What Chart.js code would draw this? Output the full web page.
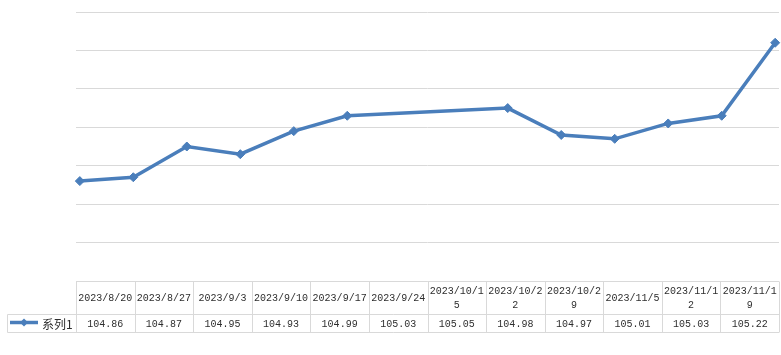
<!DOCTYPE html>
<html>
<head>
<meta charset="utf-8">
<script src="https://cdn.jsdelivr.net/npm/chart.js@4/dist/chart.umd.min.js"></script>
<style>
  html, body { margin: 0; padding: 0; background: #ffffff; }
  #wrap { width: 781px; height: 355px; }
</style>
</head>
<body>
<div id="wrap"><canvas id="c" width="781" height="355"></canvas></div>
<script>
const categories = ["2023/8/20","2023/8/27","2023/9/3","2023/9/10","2023/9/17","2023/9/24","2023/10/15","2023/10/22","2023/10/29","2023/11/5","2023/11/12","2023/11/19"];
const seriesName = "系列1";
const values = [104.86, 104.87, 104.95, 104.93, 104.99, 105.03, 105.05, 104.98, 104.97, 105.01, 105.03, 105.22];
const valueLabels = ["104.86","104.87","104.95","104.93","104.99","105.03","105.05","104.98","104.97","105.01","105.03","105.22"];
const yMin = 104.6, yMax = 105.3, yStep = 0.1;

const LINE = '#4a7ebb';
const GRID = '#d9d9d9';
const TEXT = '#2e2e2e';

function dayNum(s) {
  const p = s.split('/').map(Number);
  return Date.UTC(p[0], p[1] - 1, p[2]) / 86400000;
}
const d0 = dayNum(categories[0]);
const dayOffsets = categories.map(c => dayNum(c) - d0);
const points = dayOffsets.map((d, i) => ({ x: d, y: values[i] }));
const spanDays = dayOffsets[dayOffsets.length - 1];

const tablePlugin = {
  id: 'dataTable',
  afterDraw(chart) {
    const ctx = chart.ctx;
    const a = chart.chartArea;
    const left = a.left, right = a.right;
    const n = categories.length;
    const cw = (right - left) / n;
    const top = Math.round(a.bottom) + 0.5;
    const mid = top + 33;
    const bot = mid + 18;
    const legLeft = 7.5;
    ctx.save();
    ctx.strokeStyle = GRID;
    ctx.lineWidth = 1;
    ctx.beginPath();
    ctx.moveTo(left, top); ctx.lineTo(right, top);
    ctx.moveTo(legLeft, mid); ctx.lineTo(right, mid);
    ctx.moveTo(legLeft, bot); ctx.lineTo(right, bot);
    ctx.moveTo(legLeft, mid); ctx.lineTo(legLeft, bot);
    for (let i = 0; i <= n; i++) {
      const x = Math.round(left + i * cw) + 0.5;
      ctx.moveTo(x, top); ctx.lineTo(x, bot);
    }
    ctx.stroke();

    ctx.fillStyle = TEXT;
    ctx.font = '10px "Liberation Mono", "Noto Sans CJK SC", monospace';
    ctx.textAlign = 'center';
    ctx.textBaseline = 'middle';
    for (let i = 0; i < n; i++) {
      const cx = left + (i + 0.5) * cw;
      const label = categories[i];
      const lines = [];
      let cur = '';
      for (const ch of label) {
        if (ctx.measureText(cur + ch).width > cw - 2 && cur) { lines.push(cur); cur = ch; }
        else cur += ch;
      }
      if (cur) lines.push(cur);
      const lh = 14;
      const cy = (top + mid) / 2;
      lines.forEach((ln, k) => {
        ctx.fillText(ln, cx, cy + (k - (lines.length - 1) / 2) * lh);
      });
      ctx.fillText(valueLabels[i], cx, (mid + bot) / 2 + 0.5);
    }

    const ky = (mid + bot) / 2 - 1;
    ctx.strokeStyle = LINE;
    ctx.lineWidth = 3.5;
    ctx.beginPath();
    ctx.moveTo(10, ky); ctx.lineTo(38, ky);
    ctx.stroke();
    ctx.fillStyle = LINE;
    ctx.beginPath();
    ctx.moveTo(24, ky - 4); ctx.lineTo(28, ky); ctx.lineTo(24, ky + 4); ctx.lineTo(20, ky);
    ctx.closePath();
    ctx.fill();
    ctx.fillStyle = TEXT;
    ctx.textAlign = 'left';
    ctx.font = '12px "Noto Sans CJK SC", sans-serif';
    ctx.fillText(seriesName, 42, (mid + bot) / 2 + 0.5);
    ctx.restore();
  }
};

new Chart(document.getElementById('c'), {
  type: 'line',
  data: {
    datasets: [{
      label: seriesName,
      data: points,
      borderColor: LINE,
      backgroundColor: LINE,
      borderWidth: 3.5,
      pointStyle: 'rectRot',
      pointRadius: 4.5,
      pointBackgroundColor: LINE,
      pointBorderColor: LINE,
      pointBorderWidth: 1,
      tension: 0,
      clip: false
    }]
  },
  options: {
    responsive: false,
    animation: false,
    layout: { autoPadding: false, padding: { left: 76, right: 2, top: 12, bottom: 74 } },
    plugins: { legend: { display: false }, tooltip: { enabled: false }, title: { display: false } },
    scales: {
      x: {
        type: 'linear',
        min: -0.5,
        max: spanDays + 0.5,
        display: false
      },
      y: {
        min: yMin,
        max: yMax,
        ticks: { display: false, stepSize: yStep },
        border: { display: false },
        grid: { color: GRID, lineWidth: 1, drawTicks: false },
        afterFit(s) { s.width = 0; }
      }
    }
  },
  plugins: [tablePlugin]
});
</script>
</body>
</html>
